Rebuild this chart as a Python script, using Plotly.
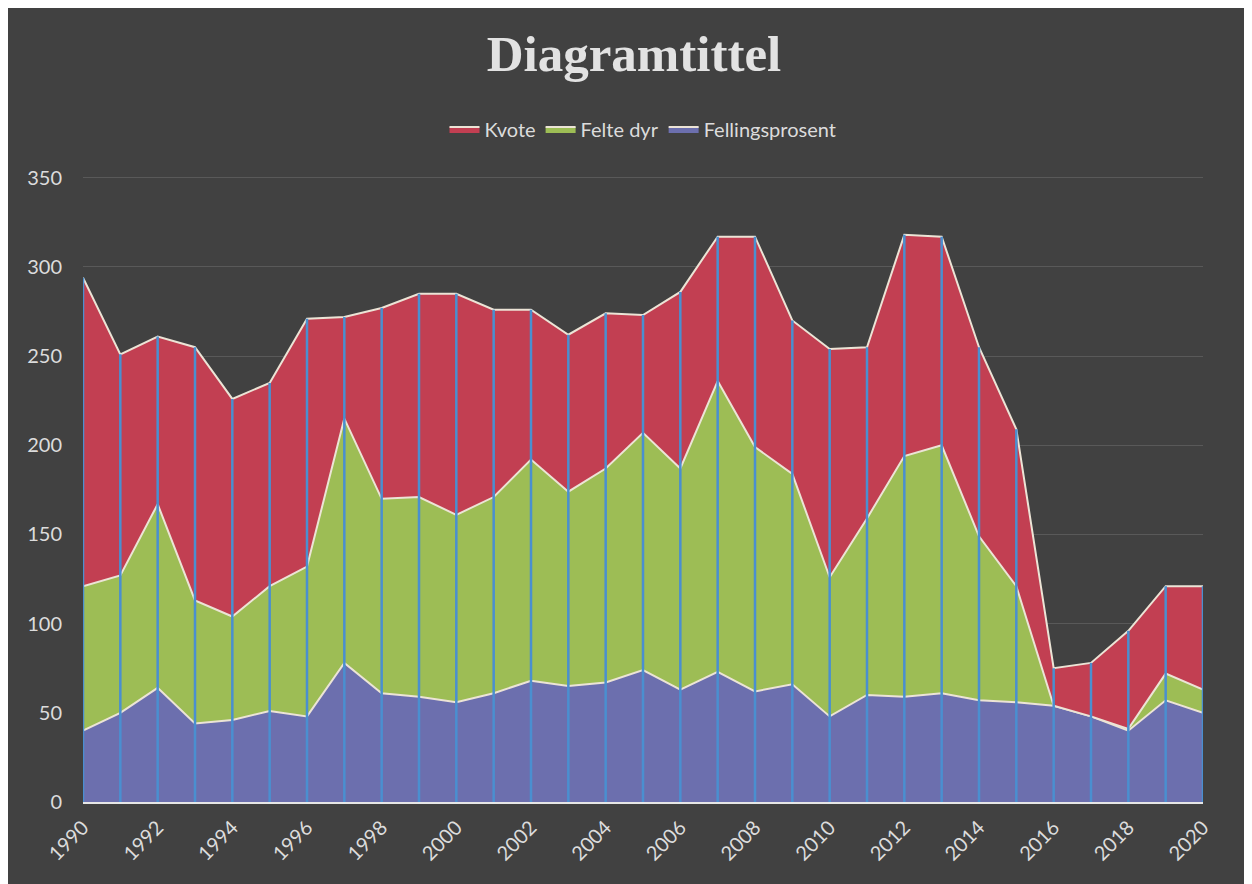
"""
Stacked area chart: Kvote / Felte dyr / Fellingsprosent, 1990-2020.
"""

import plotly.graph_objects as go


# ==========================================================
# DATA
# ==========================================================

years = list(range(1990, 2021))

fellingsprosent = [
    40, 50, 64, 44, 46, 51, 48, 78, 61, 59,
    56, 61, 68, 65, 67, 74, 63, 73, 62, 66,
    48, 60, 59, 61, 57, 56, 54, 48, 40, 57,
    50
]

felte_dyr = [
    81, 77, 103, 69, 58, 70, 84, 137, 109, 112,
    105, 110, 124, 109, 120, 133, 124, 163, 137, 118,
    78, 99, 135, 139, 92, 65, 0, 0, 1, 15,
    13
]

kvote = [
    173, 124, 94, 142, 122, 114, 139, 57, 107, 114,
    124, 105, 84, 88, 87, 66, 99, 81, 118, 86,
    128, 96, 124, 117, 106, 88, 21, 30, 55, 49,
    58
]

tick_years = list(range(1990, 2021, 2))


# ==========================================================
# STYLE
# ==========================================================

BG = "#414141"
EDGE = "#ece4d6"
TEXT = "#dcdcdc"

colors = {
    "Fellingsprosent": "#6c6fae",
    "Felte dyr": "#9dbd55",
    "Kvote": "#c23f52",
}


# ==========================================================
# FIGURE
# ==========================================================

fig = go.Figure()

for name, values in [
    ("Fellingsprosent", fellingsprosent),
    ("Felte dyr", felte_dyr),
    ("Kvote", kvote),
]:
    fig.add_trace(
        go.Scatter(
            x=years,
            y=values,
            name=name,
            mode="lines",
            stackgroup="one",
            line=dict(color=EDGE, width=2),
            fillcolor=colors[name],
            hoverinfo="x+y+name"
        )
    )

# Drop lines from the axis to the top of the stack
totals = [a + b + c for a, b, c in zip(fellingsprosent, felte_dyr, kvote)]
drop_x, drop_y = [], []
for yr, tot in zip(years, totals):
    drop_x += [yr, yr, None]
    drop_y += [0, tot, None]

fig.add_trace(
    go.Scatter(
        x=drop_x,
        y=drop_y,
        mode="lines",
        line=dict(color="#4a8fd0", width=2.5),
        showlegend=False,
        hoverinfo="skip"
    )
)

# page body has an 8px margin, so offsets are trimmed by 8
fig.update_layout(
    width=1252,
    height=884,
    paper_bgcolor=BG,
    plot_bgcolor=BG,
    margin=dict(l=75, r=57, t=168, b=90),
    title=dict(
        text="<b>Diagramtittel</b>",
        x=0.5,
        xanchor="center",
        y=1 - 45 / 884,
        yanchor="middle",
        font=dict(family="Liberation Serif, DejaVu Serif, serif", size=51, color="#e2e2e2")
    ),
    legend=dict(
        orientation="h",
        traceorder="reversed",
        x=0.5,
        xanchor="center",
        y=1.075,
        yanchor="middle",
        itemwidth=30,
        font=dict(family="Lato, Open Sans, sans-serif", size=20, color=TEXT),
        bgcolor="rgba(0,0,0,0)"
    ),
    font=dict(family="Lato, Open Sans, sans-serif", size=19, color=TEXT),
    showlegend=True
)

fig.update_xaxes(
    range=[1990, 2020],
    tickmode="array",
    tickvals=tick_years,
    ticktext=[str(y) for y in tick_years],
    tickangle=-45,
    showgrid=False,
    zeroline=False,
    showline=True,
    linecolor="#e6e6e6",
    linewidth=2,
    ticks="",
    ticklabelstandoff=4,
    tickfont=dict(size=20, color=TEXT)
)

fig.update_yaxes(
    range=[0, 351],
    tickvals=[0, 50, 100, 150, 200, 250, 300, 350],
    showgrid=True,
    gridcolor="rgba(255,255,255,0.13)",
    gridwidth=1,
    zeroline=False,
    showline=False,
    ticks="",
    ticklabelstandoff=20,
    tickfont=dict(size=20, color=TEXT)
)

fig.write_html("out.html")
